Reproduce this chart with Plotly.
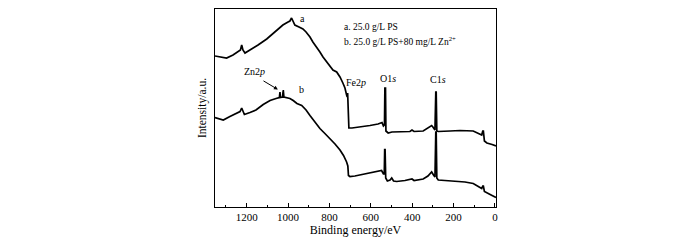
import plotly.graph_objects as go

# Curve a: 25.0 g/L PS
be_a = [1353, 1329, 1297, 1266, 1242, 1230, 1224, 1218, 1208, 1184, 1145, 1103, 1063, 1025,
        1000, 991, 983, 976, 967, 947, 928, 913, 894, 880, 862, 846, 831, 814, 797, 783, 765,
        749, 735, 725, 717, 714, 712, 709, 706, 691, 652, 604, 565, 546, 539, 534, 532, 529,
        527, 516, 498, 459, 411, 401, 391, 347, 324, 306, 300, 290, 286, 284, 281, 274, 217,
        169, 105, 82, 64, 59, 56, 51, 39, 14, -5]
int_a = [151, 150, 149, 152, 155, 157, 162, 157, 154, 157, 162, 168, 175, 182,
         185, 186, 189, 185, 182, 180, 178, 175, 170, 165, 160, 155, 150, 145, 140, 137, 135,
         130, 124, 119, 112, 110, 114, 97, 79, 79, 80, 81.5, 83, 84.5, 81, 82, 119, 119,
         76, 74, 75, 75, 75.5, 77, 75.5, 76, 79, 81.5, 80, 77, 115, 115, 76, 75.5, 76,
         76.5, 76, 74, 72, 76, 76, 66, 64, 62.5, 61]

# Curve b: 25.0 g/L PS + 80 mg/L Zn2+
be_b = [1353, 1329, 1313, 1281, 1248, 1232, 1224, 1218, 1211, 1184, 1155, 1120, 1087, 1058,
        1042, 1039, 1037, 1027, 1023, 1020, 1007, 991, 975, 957, 934, 913, 894, 870, 846, 822,
        797, 773, 749, 732, 717, 711, 708, 701, 677, 628, 588, 565, 548, 539, 535, 533, 531,
        528, 520, 507, 499, 490, 475, 435, 401, 391, 347, 324, 306, 297, 290, 286, 284, 281,
        274, 242, 185, 145, 105, 82, 64, 59, 56, 51, 34, 14, -5]
int_b = [89.5, 88, 87, 90.5, 94, 95.5, 99, 96, 92.5, 94.5, 97, 102.5, 106.5, 108.5,
         109.5, 115, 109.5, 110, 117, 110, 109.5, 108.5, 106.5, 103.5, 101.5, 97, 91.5, 85, 78.5, 73.5,
         68.5, 63, 57, 51.5, 45, 41, 31.5, 30.5, 31, 33, 35, 35.5, 36.5, 33, 33, 57.5, 57.5,
         29, 26, 27, 29, 26, 25.5, 26.5, 28, 26.5, 28, 31, 35, 32, 30, 75, 75, 29,
         27, 26.5, 26, 25, 23.5, 21, 18.5, 21, 21, 15.5, 14, 11.5, 9.5]

x_ticks = [1200, 1000, 800, 600, 400, 200, 0]
x_tick_labels = ["1200", "1000", "800", "600", "400", "200", "0"]

FONT = "Liberation Serif, Times New Roman, serif"

fig = go.Figure()
fig.add_trace(go.Scatter(x=be_a, y=int_a, mode="lines", line=dict(color="black", width=1.7),
                         showlegend=False, hoverinfo="skip"))
fig.add_trace(go.Scatter(x=be_b, y=int_b, mode="lines", line=dict(color="black", width=1.7),
                         showlegend=False, hoverinfo="skip"))

ann_font = dict(family=FONT, size=10, color="#000000")
anns = [
    dict(x=930, y=189, text="a", showarrow=False, font=ann_font),
    dict(x=935, y=117.5, text="b", showarrow=False, font=ann_font),
    dict(x=1160, y=136, text="Zn2<i>p</i>", showarrow=False, font=ann_font),
    dict(x=672, y=125, text="Fe2<i>p</i>", showarrow=False, font=ann_font),
    dict(x=518, y=128.7, text="O1<i>s</i>", showarrow=False, font=ann_font),
    dict(x=275, y=128, text="C1<i>s</i>", showarrow=False, font=ann_font),
    dict(x=1049, y=117.5, ax=1126, ay=127, xref="x", yref="y", axref="x", ayref="y",
         text="", showarrow=True, arrowhead=2, arrowsize=0.8, arrowwidth=1, arrowcolor="black"),
    dict(x=0.451, y=0.944, xref="paper", yref="paper", xanchor="left", showarrow=False,
         text="a. 25.0 g/L PS", font=dict(family=FONT, size=9.5, color="black")),
    dict(x=0.451, y=0.877, xref="paper", yref="paper", xanchor="left", showarrow=False,
         text="b. 25.0 g/L PS+80 mg/L Zn<sup>2+</sup>", font=dict(family=FONT, size=9.5, color="black")),
]

fig.update_layout(
    width=700, height=244,
    margin=dict(l=207, r=212, t=1, b=45),
    paper_bgcolor="white", plot_bgcolor="white",
    font=dict(family=FONT, color="black", size=11),
    annotations=anns,
    xaxis=dict(range=[1353, -5], tickmode="array", tickvals=x_ticks, ticktext=x_tick_labels,
               ticks="inside", ticklen=4, tickwidth=1, tickcolor="black",
               minor=dict(dtick=100, tick0=0, ticks="inside", ticklen=2.5, tickcolor="black"),
               showline=True, linecolor="black", linewidth=1, mirror=True,
               showgrid=False, zeroline=False, tickfont=dict(size=11),
               title=dict(text="Binding energy/eV", font=dict(size=12), standoff=2)),
    yaxis=dict(range=[0, 198], showticklabels=False, ticks="",
               showline=True, linecolor="black", linewidth=1, mirror=True,
               showgrid=False, zeroline=False,
               title=dict(text="Intensity/a.u.", font=dict(size=11.5), standoff=4)),
)

fig.write_html("out.html")
